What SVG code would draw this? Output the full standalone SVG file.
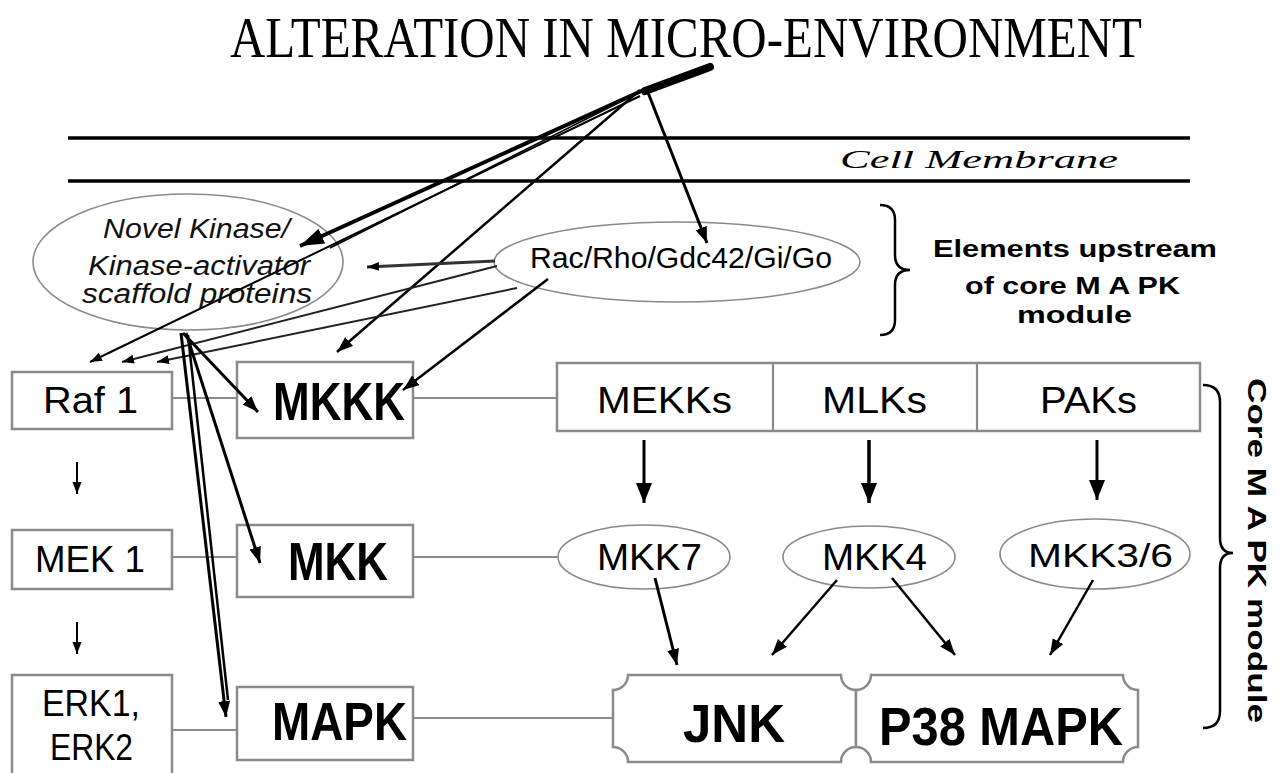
<svg xmlns="http://www.w3.org/2000/svg" width="1283" height="773" viewBox="0 0 1283 773">
<style>
.box{fill:#fff;stroke:#8a8a8a;stroke-width:2.5}
.ell{fill:#fff;stroke:#8a8a8a;stroke-width:1.6}
.link{stroke:#8a8a8a;stroke-width:2.2;fill:none}
.arr{stroke:#000;fill:none}
.t{font-family:"Liberation Sans",Arial,sans-serif;fill:#000;text-anchor:start}
.tb{font-family:"Liberation Sans",Arial,sans-serif;font-weight:bold;fill:#000}
.ti{font-family:"Liberation Sans",Arial,sans-serif;font-style:italic;fill:#111}
.brace{fill:none;stroke:#000;stroke-width:2.5}
</style>
<defs>
<marker id="big" markerUnits="userSpaceOnUse" markerWidth="22" markerHeight="18" refX="20" refY="8" orient="auto"><path d="M0,0 L20,8 L0,16 z" fill="#000"/></marker>
<marker id="med" markerUnits="userSpaceOnUse" markerWidth="18" markerHeight="14" refX="16" refY="6" orient="auto"><path d="M0,0 L16,6 L0,12 z" fill="#000"/></marker>
<marker id="sm" markerUnits="userSpaceOnUse" markerWidth="14" markerHeight="10" refX="12" refY="4.5" orient="auto"><path d="M0,0 L12,4.5 L0,9 z" fill="#000"/></marker>
<marker id="thk" markerUnits="userSpaceOnUse" markerWidth="26" markerHeight="18" refX="24" refY="8" orient="auto"><path d="M0,0 L24,8 L0,16 z" fill="#000"/></marker>
</defs>

<g id="title"><text x="230" y="57" font-family="Liberation Serif,Times New Roman,serif" font-size="56" textLength="912" lengthAdjust="spacingAndGlyphs">ALTERATION IN MICRO-ENVIRONMENT</text></g>

<g id="membrane">
<line x1="68" y1="138" x2="1190" y2="138" stroke="#000" stroke-width="3.5"/>
<line x1="68" y1="181" x2="1190" y2="181" stroke="#000" stroke-width="3.5"/>
<text x="840" y="168" font-family="Liberation Serif,serif" font-style="italic" font-size="26" textLength="278" lengthAdjust="spacingAndGlyphs">Cell Membrane</text>
</g>

<g id="novel-kinase">
<ellipse class="ell" cx="188" cy="262" rx="155" ry="68"/>
<text class="ti" x="103" y="238" font-size="27" textLength="187" lengthAdjust="spacingAndGlyphs">Novel Kinase/</text>
<text class="ti" x="88" y="275" font-size="27" textLength="222" lengthAdjust="spacingAndGlyphs">Kinase-activator</text>
<text class="ti" x="82" y="303" font-size="27" textLength="230" lengthAdjust="spacingAndGlyphs">scaffold proteins</text>
</g>

<g id="rac">
<ellipse class="ell" cx="677" cy="262" rx="183" ry="40"/>
<text class="t" x="530" y="268" font-size="29" textLength="302" lengthAdjust="spacingAndGlyphs">Rac/Rho/Gdc42/Gi/Go</text>
</g>

<g id="upstream-label">
<path class="brace" d="M880,205 Q895,205 895,220 V255 Q895,270 910,270 Q895,270 895,285 V320 Q895,335 880,335"/>
<text class="tb" x="933" y="257" font-size="24" textLength="284" lengthAdjust="spacingAndGlyphs">Elements upstream</text>
<text class="tb" x="965" y="294" font-size="24" textLength="215" lengthAdjust="spacingAndGlyphs">of core M A PK</text>
<text class="tb" x="1017" y="323" font-size="24" textLength="115" lengthAdjust="spacingAndGlyphs">module</text>
</g>

<g id="raf1"><rect class="box" x="12" y="372" width="160" height="57"/><text class="t" x="43" y="413" font-size="36" textLength="95" lengthAdjust="spacingAndGlyphs">Raf 1</text></g>
<g id="mek1"><rect class="box" x="12" y="530" width="160" height="59"/><text class="t" x="35" y="572" font-size="36" textLength="110" lengthAdjust="spacingAndGlyphs">MEK 1</text></g>
<g id="erk"><rect class="box" x="12" y="675" width="160" height="100"/><text class="t" x="42" y="716" font-size="36" textLength="98" lengthAdjust="spacingAndGlyphs">ERK1,</text><text class="t" x="50" y="760" font-size="36" textLength="83" lengthAdjust="spacingAndGlyphs">ERK2</text></g>

<g id="mkkk"><rect class="box" x="237" y="362" width="176" height="76"/><text class="tb" x="273" y="420" font-size="54" textLength="132" lengthAdjust="spacingAndGlyphs">MKKK</text></g>
<g id="mkk"><rect class="box" x="237" y="525" width="176" height="72"/><text class="tb" x="288" y="580" font-size="54" textLength="100" lengthAdjust="spacingAndGlyphs">MKK</text></g>
<g id="mapk"><rect class="box" x="237" y="687" width="176" height="73"/><text class="tb" x="272" y="740" font-size="54" textLength="135" lengthAdjust="spacingAndGlyphs">MAPK</text></g>

<g id="mkkk-family">
<rect class="box" x="557" y="363" width="643" height="68"/>
<line class="link" x1="773" y1="363" x2="773" y2="431"/>
<line class="link" x1="977" y1="363" x2="977" y2="431"/>
<text class="t" x="597" y="413" font-size="36" textLength="135" lengthAdjust="spacingAndGlyphs">MEKKs</text>
<text class="t" x="822" y="413" font-size="36" textLength="105" lengthAdjust="spacingAndGlyphs">MLKs</text>
<text class="t" x="1040" y="413" font-size="36" textLength="97" lengthAdjust="spacingAndGlyphs">PAKs</text>
</g>

<g id="mkk7"><ellipse class="ell" cx="644" cy="557" rx="86" ry="32"/><text class="t" x="597" y="570" font-size="36" textLength="105" lengthAdjust="spacingAndGlyphs">MKK7</text></g>
<g id="mkk4"><ellipse class="ell" cx="869" cy="557" rx="86" ry="31"/><text class="t" x="822" y="570" font-size="36" textLength="105" lengthAdjust="spacingAndGlyphs">MKK4</text></g>
<g id="mkk36"><ellipse class="ell" cx="1095" cy="554" rx="95" ry="35"/><text class="t" x="1028" y="567" font-size="34" textLength="145" lengthAdjust="spacingAndGlyphs">MKK3/6</text></g>

<g id="jnk"><path class="box" d="M628,675 H841 A15,15 0 0 0 856,690 V747 A15,15 0 0 0 841,762 H628 A15,15 0 0 0 613,747 V690 A15,15 0 0 0 628,675 Z"/><text class="tb" x="683" y="742" font-size="54" textLength="102" lengthAdjust="spacingAndGlyphs">JNK</text></g>
<g id="p38"><path class="box" d="M871,675 H1123 A15,15 0 0 0 1138,690 V747 A15,15 0 0 0 1123,762 H871 A15,15 0 0 0 856,747 V690 A15,15 0 0 0 871,675 Z"/><text class="tb" x="879" y="745" font-size="54" textLength="244" lengthAdjust="spacingAndGlyphs">P38 MAPK</text></g>

<g id="core-label">
<path class="brace" d="M1203,385 Q1220,385 1220,402 V538 Q1220,553 1233,553 Q1220,553 1220,568 V711 Q1220,728 1203,728"/>
<text class="tb" transform="translate(1248,378) rotate(90)" font-size="25" textLength="345" lengthAdjust="spacingAndGlyphs">Core M A PK module</text>
</g>

<g id="connectors">
<line class="link" x1="172" y1="398" x2="237" y2="398"/>
<line class="link" x1="413" y1="398" x2="557" y2="398"/>
<line class="link" x1="172" y1="557" x2="237" y2="557"/>
<line class="link" x1="413" y1="557" x2="558" y2="557"/>
<line class="link" x1="172" y1="730" x2="237" y2="730"/>
<line class="link" x1="413" y1="718" x2="613" y2="718"/>

<line class="arr" x1="77" y1="462" x2="77" y2="494" stroke-width="2" marker-end="url(#sm)"/>
<line class="arr" x1="77" y1="622" x2="77" y2="654" stroke-width="2" marker-end="url(#sm)"/>

<line class="arr" x1="644" y1="440" x2="644" y2="503" stroke-width="3" marker-end="url(#big)"/>
<line class="arr" x1="869" y1="440" x2="869" y2="503" stroke-width="3.5" marker-end="url(#big)"/>
<line class="arr" x1="1097" y1="440" x2="1097" y2="500" stroke-width="3" marker-end="url(#big)"/>

<line class="arr" x1="655" y1="578" x2="677" y2="665" stroke-width="3" marker-end="url(#med)"/>
<line class="arr" x1="837" y1="580" x2="772" y2="655" stroke-width="2.5" marker-end="url(#med)"/>
<line class="arr" x1="892" y1="578" x2="955" y2="655" stroke-width="2.5" marker-end="url(#med)"/>
<line class="arr" x1="1093" y1="580" x2="1050" y2="655" stroke-width="2.5" marker-end="url(#med)"/>

<line x1="710" y1="67" x2="645" y2="91" stroke="#000" stroke-width="8" stroke-linecap="round"/>
<line class="arr" x1="648" y1="88" x2="300" y2="246" stroke-width="4" marker-end="url(#thk)"/>
<line class="arr" x1="640" y1="96" x2="90" y2="362" stroke-width="2" marker-end="url(#sm)"/>
<line class="arr" x1="636" y1="94" x2="330" y2="248" stroke-width="1.6"/>
<line class="arr" x1="640" y1="90" x2="337" y2="352" stroke-width="2.5" marker-end="url(#med)"/>
<line class="arr" x1="647" y1="90" x2="707" y2="243" stroke-width="3" marker-end="url(#med)"/>

<line x1="495" y1="261" x2="367" y2="267" stroke="#333" stroke-width="3" marker-end="url(#sm)"/>
<line x1="497" y1="266" x2="122" y2="362" stroke="#222" stroke-width="2" marker-end="url(#sm)"/>
<line x1="517" y1="288" x2="157" y2="362" stroke="#222" stroke-width="2" marker-end="url(#sm)"/>
<line class="arr" x1="548" y1="279" x2="403" y2="390" stroke-width="2.5" marker-end="url(#med)"/>

<line class="arr" x1="183" y1="333" x2="258" y2="412" stroke-width="3" marker-end="url(#med)"/>
<line class="arr" x1="186" y1="333" x2="260" y2="563" stroke-width="3" marker-end="url(#med)"/>
<line class="arr" x1="181" y1="333" x2="226" y2="717" stroke-width="3" marker-end="url(#med)"/>
<line class="arr" x1="188" y1="335" x2="228" y2="700" stroke-width="2.5"/>
</g>
</svg>
